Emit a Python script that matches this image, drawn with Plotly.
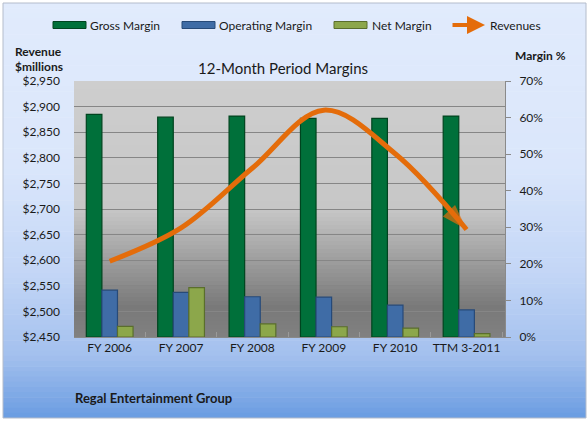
import plotly.graph_objects as go

# values
periods = ["FY 2006", "FY 2007", "FY 2008", "FY 2009", "FY 2010", "TTM 3-2011"]
gross_margin = [60.9, 60.1, 60.4, 59.8, 59.8, 60.4]
operating_margin = [12.8, 12.2, 11.0, 10.9, 8.7, 7.4]
net_margin = [2.9, 13.5, 3.6, 2.8, 2.4, 0.9]
revenues = [2598, 2663, 2780, 2893, 2808, 2660]

rev_ticks = list(range(2450, 2951, 50))
margin_ticks = list(range(0, 71, 10))
rev_labels = ["${:,}".format(v) for v in rev_ticks]
margin_labels = ["{}%".format(v) for v in margin_ticks]

W, H = 588, 422
L, R, T, B = 74, 505, 81, 337   # plot area in pixels

GREEN, BLUE, OLIVE, ORANGE = "#00703a", "#3f6ca6", "#8ca74b", "#e46c0a"
FONT = "Lato"


def px(x):
    return (x - L) / (R - L)


def py(y):
    return (B - y) / (B - T)


def mix(stops, t):
    # linear colour interpolation between gradient stops
    for (t0, c0), (t1, c1) in zip(stops, stops[1:]):
        if t0 <= t <= t1:
            f = (t - t0) / (t1 - t0) if t1 > t0 else 0
            a = [int(c0[i:i + 2], 16) for i in (1, 3, 5)]
            b = [int(c1[i:i + 2], 16) for i in (1, 3, 5)]
            return "rgb(%d,%d,%d)" % tuple(round(a[k] + (b[k] - a[k]) * f) for k in range(3))
    return stops[-1][1]


def strips(x0, x1, y0, y1, stops, n):
    out = []
    for i in range(n):
        ya = y0 + (y1 - y0) * i / n
        yb = y0 + (y1 - y0) * (i + 1) / n + 0.6
        out.append(dict(type="rect", xref="paper", yref="paper", layer="below",
                        x0=px(x0), x1=px(x1), y0=py(ya), y1=py(min(yb, y1)),
                        line=dict(width=0), fillcolor=mix(stops, (i + 0.5) / n)))
    return out


outer_stops = [(0, "#e1ebfc"), (0.4, "#dae6fb"), (0.65, "#c3d6f6"),
               (0.85, "#a3c0ee"), (1.0, "#6a9ce1")]
plot_stops = [(0, "#cecece"), (0.5, "#c7c7c7"), (0.88, "#797979"), (1.0, "#808080")]

shapes = strips(3, 586, 3, 418, outer_stops, 80)
shapes.append(dict(type="rect", xref="paper", yref="paper", layer="below",
                   x0=px(3), x1=px(586), y0=py(3), y1=py(418),
                   line=dict(color="#b4bccb", width=1)))
shapes += strips(L, R, T, B, plot_stops, 64)

fig = go.Figure()

bar_specs = [("Gross Margin", gross_margin, GREEN, "#00441f"),
             ("Operating Margin", operating_margin, BLUE, "#274a78"),
             ("Net Margin", net_margin, OLIVE, "#5a6e2c")]
for name, vals, col, edge in bar_specs:
    fig.add_trace(go.Bar(x=periods, y=vals, name=name, marker_color=col,
                         marker_line=dict(color=edge, width=1.2),
                         yaxis="y", showlegend=False))

fig.add_trace(go.Scatter(
    x=periods, y=revenues, name="Revenues", yaxis="y2", mode="lines+markers",
    line=dict(color=ORANGE, width=5, shape="spline", smoothing=1.0),
    marker=dict(symbol=["circle"] * 5 + ["arrow"], size=[0] * 5 + [27],
                angleref="previous", color=ORANGE, line=dict(width=0)),
    showlegend=False))

# hand-made legend (wide swatches and an arrow, like the original)
leg_y = 25
for x0, (name, vals, col, edge) in zip([53, 182, 334], bar_specs):
    shapes.append(dict(type="rect", xref="paper", yref="paper",
                       x0=px(x0), x1=px(x0 + 33), y0=py(leg_y - 3.5), y1=py(leg_y + 3.5),
                       fillcolor=col, line=dict(color=edge, width=1)))

annotations = []
for x0, text in zip([88, 217, 370, 488], ["Gross Margin", "Operating Margin", "Net Margin", "Revenues"]):
    annotations.append(dict(text=text, x=px(x0), y=py(leg_y), xref="paper", yref="paper",
                            xanchor="left", yanchor="middle", showarrow=False,
                            font=dict(size=12, color="#1a1a1a")))
annotations.append(dict(text="", x=px(485), y=py(leg_y), xref="paper", yref="paper",
                        ax=-34, ay=0, showarrow=True, arrowhead=2, arrowsize=0.9,
                        arrowwidth=4, arrowcolor=ORANGE))

annotations += [
    dict(text="<b>Revenue</b>", x=px(13), y=py(51), xanchor="left"),
    dict(text="<b>$millions</b>", x=px(13), y=py(66), xanchor="left"),
    dict(text="<b>Margin %</b>", x=px(513), y=py(55), xanchor="left"),
    dict(text="12-Month Period Margins", x=px(282.5), y=py(68), xanchor="center",
         font=dict(size=15, color="#1a1a1a")),
    dict(text="<b>Regal Entertainment Group</b>", x=px(73), y=py(398), xanchor="left",
         font=dict(size=13, color="#1a1a1a")),
]
for a in annotations[-5:]:
    a.update(xref="paper", yref="paper", yanchor="middle", showarrow=False)
    a.setdefault("font", dict(size=12, color="#1a1a1a"))

fig.update_layout(
    width=W, height=H, autosize=False,
    margin=dict(l=L, r=W - R, t=T, b=H - B),
    paper_bgcolor="white", plot_bgcolor="rgba(0,0,0,0)",
    font=dict(family=FONT, size=12, color="#1a1a1a"),
    barmode="group", bargap=0.345, bargroupgap=0,
    shapes=shapes, annotations=annotations,
    xaxis=dict(type="category", domain=[0, 1], showgrid=False, showline=True,
               linecolor="#8a8a8a", linewidth=1, ticks="inside", tickson="boundaries",
               ticklen=5, tickcolor="#9a9a9a", tickangle=0, tickfont=dict(size=12)),
    yaxis=dict(side="right", range=[0, 70], tickmode="array", tickvals=margin_ticks,
               ticktext=margin_labels, showgrid=False, zeroline=False, showline=True,
               linecolor="#8a8a8a", ticks="outside", ticklen=5, tickcolor="#8a8a8a",
               ticklabelstandoff=6, tickfont=dict(size=12)),
    yaxis2=dict(side="left", overlaying="y", range=[2450, 2950], tickmode="array",
                tickvals=rev_ticks, ticktext=rev_labels, showgrid=True,
                gridcolor="#868686", gridwidth=1, zeroline=False, showline=False,
                ticks="", ticklabelstandoff=13, tickfont=dict(size=12)),
)

# the page's default body margin would shift the figure by 8px
fig.write_html("out.html", config={"displayModeBar": False},
               post_script="document.body.style.margin='0px';")
